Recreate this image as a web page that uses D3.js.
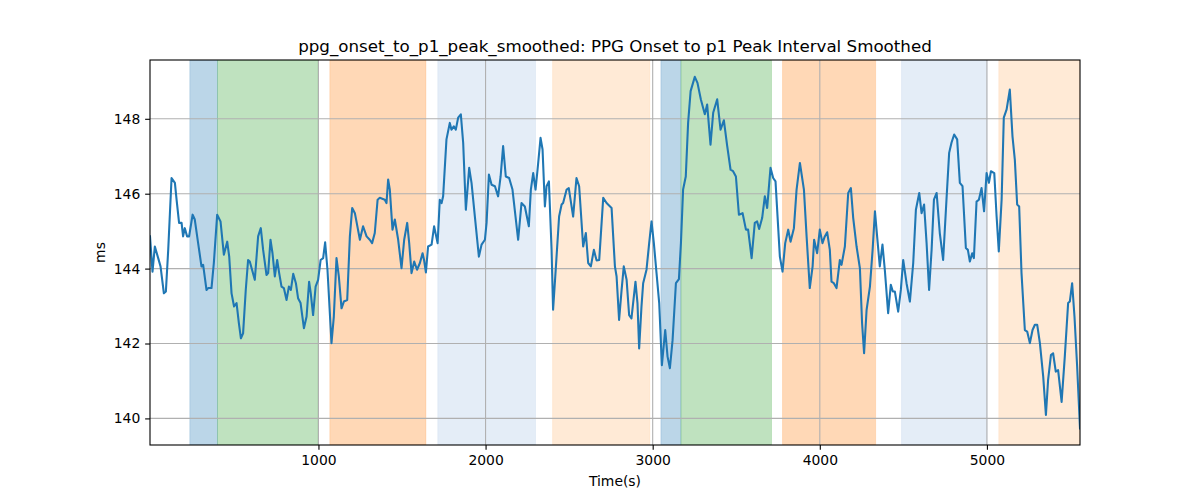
<!DOCTYPE html>
<html>
<head>
<meta charset="utf-8">
<script src="https://cdn.jsdelivr.net/npm/d3@7"></script>
<style>
  html, body { margin: 0; padding: 0; background: #fff; }
  svg { display: block; }
  text { font-family: "DejaVu Sans", sans-serif; fill: #000; }
</style>
</head>
<body>
<svg id="chart" width="1200" height="500"></svg>
<script>
const title = "ppg_onset_to_p1_peak_smoothed: PPG Onset to p1 Peak Interval Smoothed";
const xLabel = "Time(s)";
const yLabel = "ms";
const xTicks = [1000, 2000, 3000, 4000, 5000];
const yTicks = [140, 142, 144, 146, 148];
const xDomain = [-8, 5557];
const yDomain = [139.29, 149.57];

// shaded phases: start, end, kind
const spanStart = [230, 396, 1068, 1714, 2401, 3049, 3169, 3777, 4489, 5071];
const spanEnd   = [396, 998, 1643, 2299, 2983, 3169, 3711, 4334, 5001, 5557];
const spanKind  = ["blue", "green", "orange", "lightblue", "lightorange", "blue", "green", "orange", "lightblue", "lightorange"];

const time = [
-8,7,21,41,55,75,87,101,121,141,151,166,181,190,200,214,226,247,260,280,300,310,330,340,360,374,394,414,434,454,466,480,495,510,524,536,549,565,579,589,619,639,655,669,689,699,713,725,739,753,765,779,793,809,823,835,849,865,878,893,913,929,944,954,968,983,998,1013,1028,1040,1054,1078,1092,1108,1122,1138,1152,1172,1188,1202,1218,1248,1267,1288,1307,1321,1337,1354,1367,
1397,1407,1417,1427,1443,1457,1477,1497,1513,1531,1543,1557,1573,1590,1607,1623,1632,1643,1656,1677,1692,1713,1726,1737,1746,1766,1786,1796,1810,1822,1836,1852,1866,1882,1902,1916,1936,1960,1976,1996,2006,2020,2036,2056,2075,2090,2105,2121,2141,2161,2195,2215,2235,2259,2271,2285,2299,2311,2329,2341,2355,2365,2379,2395,2404,2421,2440,2455,2464,2485,2498,2524,2544,2560,2584,2600,2614,2630,2648,2664,2680,2704,2724,2754,
2774,2784,2799,2814,2827,2844,2859,2873,2897,2909,2919,2933,2943,2963,2979,2993,3007,3023,3039,3055,3075,3089,3103,3119,3139,3157,3169,3182,3198,3212,3227,3252,3268,3288,3312,3326,3346,3362,3386,3406,3426,3446,3466,3481,3498,3516,3538,3558,3571,3592,3611,3625,3637,3655,3671,3685,3705,3721,3735,3761,3777,3793,3811,3825,3845,3861,3881,3905,3921,3940,3957,3966,3984,4000,4016,4030,4044,4060,
4070,4084,4100,4120,4130,4150,4170,4186,4200,4220,4240,4253,4265,4280,4300,4316,4330,4343,4359,4375,4389,4409,4425,4437,4449,4469,4485,4499,4519,4539,4559,4575,4595,4609,4624,4639,4654,4669,4683,4699,4718,4738,4758,4774,4788,4804,4822,4838,4854,4874,4886,4898,4912,4922,4938,4952,4968,4983,4998,5012,5024,5044,5058,5071,5088,5101,5118,5137,5153,5167,5181,5193,5207,5227,5241,5257,5273,5287,5301,5317,5337,5353,5366,5383,5396,5412,5426,5447,5466,5486,5496,5510,5524,5540,5557
];
const msValues = [
144.86,143.92,144.59,144.28,144.06,143.34,143.39,144.50,146.42,146.29,145.84,145.22,145.22,144.86,145.08,144.86,144.86,145.44,145.31,144.68,144.06,144.10,143.43,143.48,143.48,144.15,145.44,145.26,144.37,144.72,144.32,143.34,142.99,143.08,142.54,142.14,142.27,143.43,144.23,144.19,143.70,144.86,145.08,144.50,143.83,143.88,144.77,144.41,143.79,144.23,143.88,143.52,143.48,143.16,143.52,143.43,143.86,143.61,143.21,143.08,142.41,142.72,143.65,143.34,142.76,143.52,143.70,144.23,144.28,144.70,143.97,142.01,142.72,144.28,143.79,142.94,143.12,143.16,144.86,145.62,145.48,144.77,145.13,144.86,144.77,144.68,144.95,145.84,145.89,
145.84,145.75,146.38,146.11,145.04,145.31,144.77,144.01,144.77,145.22,144.68,143.88,144.19,143.97,144.15,144.41,144.23,143.90,144.59,144.64,145.13,144.68,145.84,145.75,145.93,147.45,147.89,147.71,147.80,147.71,148.03,148.12,147.36,145.57,146.69,146.29,145.39,144.32,144.64,144.77,145.22,146.51,146.24,146.20,145.93,146.46,147.27,146.46,146.42,146.11,144.77,145.75,145.66,145.13,146.11,146.55,146.11,146.64,147.49,147.18,145.66,146.20,146.33,144.50,142.90,144.06,145.39,145.71,145.75,146.11,146.15,145.39,146.42,146.20,144.59,144.95,144.15,144.06,144.50,144.22,144.23,145.89,145.75,145.62,
144.06,143.79,142.63,143.43,144.06,143.70,142.76,142.67,143.65,143.08,141.87,142.99,143.61,143.97,144.68,145.26,144.68,143.88,143.08,141.42,142.36,141.65,141.34,142.09,143.61,143.72,144.68,146.11,146.46,147.89,148.74,149.12,148.96,148.52,148.12,148.38,147.31,148.16,148.52,147.71,147.96,147.27,146.64,146.60,146.46,145.44,145.48,145.04,145.04,144.28,145.22,145.26,145.06,145.35,145.93,145.62,146.69,146.42,146.33,144.32,143.92,144.68,145.04,144.72,145.08,146.11,146.82,146.11,144.86,143.48,144.06,144.77,144.41,145.04,144.68,144.86,144.97,144.50,
143.65,143.61,143.48,144.23,144.10,144.59,146.02,146.15,145.35,144.59,144.01,142.54,141.74,142.90,143.52,144.50,145.53,144.86,144.06,144.64,143.97,142.81,143.57,143.39,143.39,142.85,143.43,144.23,143.61,143.12,144.15,145.57,146.02,145.48,145.71,144.68,143.43,144.50,145.84,146.02,144.95,144.23,145.84,147.09,147.36,147.58,147.45,146.29,146.20,144.55,144.50,144.19,144.41,144.28,145.79,145.84,146.15,145.53,146.55,146.29,146.60,146.55,145.39,144.46,145.84,148.03,148.25,148.78,147.53,146.91,145.71,145.66,143.88,142.36,142.32,142.01,142.36,142.50,142.50,142.01,141.11,140.09,141.02,141.69,141.74,141.25,141.29,140.44,141.65,143.08,143.12,143.61,142.72,141.38,139.73
];

const spanColors = {
  blue:        { fill: "#1f77b4", op: 0.3 },
  green:       { fill: "#2ca02c", op: 0.3 },
  orange:      { fill: "#ff7f0e", op: 0.3 },
  lightblue:   { fill: "#aec7e8", op: 0.33 },
  lightorange: { fill: "#ffbb78", op: 0.3 }
};

const svg = d3.select("#chart");
const m = { left: 150, right: 1080, top: 60, bottom: 445 };

const x = d3.scaleLinear().domain(xDomain).range([m.left, m.right]);
const y = d3.scaleLinear().domain(yDomain).range([m.bottom, m.top]);

svg.append("defs").append("clipPath").attr("id", "clip")
  .append("rect").attr("x", m.left).attr("y", m.top)
  .attr("width", m.right - m.left).attr("height", m.bottom - m.top);

const spans = spanStart.map((s, i) => ({ s, e: spanEnd[i], k: spanKind[i] }));
svg.append("g").attr("clip-path", "url(#clip)")
  .selectAll("rect").data(spans).join("rect")
  .attr("x", d => x(d.s))
  .attr("width", d => x(d.e) - x(d.s))
  .attr("y", m.top).attr("height", m.bottom - m.top)
  .attr("fill", d => spanColors[d.k].fill)
  .attr("fill-opacity", d => spanColors[d.k].op)
  .attr("stroke", d => spanColors[d.k].fill)
  .attr("stroke-opacity", d => spanColors[d.k].op * 0.6)
  .attr("stroke-width", 1);

// grid
const grid = svg.append("g");
grid.selectAll("line.gx").data(xTicks).join("line")
  .attr("x1", d => x(d)).attr("x2", d => x(d))
  .attr("y1", m.top).attr("y2", m.bottom)
  .attr("stroke", "#b0b0b0").attr("stroke-width", 1.1);
grid.selectAll("line.gy").data(yTicks).join("line")
  .attr("y1", d => y(d)).attr("y2", d => y(d))
  .attr("x1", m.left).attr("x2", m.right)
  .attr("stroke", "#b0b0b0").attr("stroke-width", 1.1);

// line
const pts = time.map((t, i) => [t, msValues[i]]);
svg.append("path").datum(pts)
  .attr("clip-path", "url(#clip)")
  .attr("fill", "none")
  .attr("stroke", "#1f77b4")
  .attr("stroke-width", 2.08)
  .attr("stroke-linejoin", "round")
  .attr("stroke-linecap", "square")
  .attr("d", d3.line().x(d => x(d[0])).y(d => y(d[1])));

// frame
svg.append("rect").attr("x", m.left).attr("y", m.top)
  .attr("width", m.right - m.left).attr("height", m.bottom - m.top)
  .attr("fill", "none").attr("stroke", "#000").attr("stroke-width", 1.1);

// axes
const xAxis = svg.append("g").attr("transform", `translate(0,${m.bottom})`)
  .call(d3.axisBottom(x).tickValues(xTicks).tickSize(4.86).tickPadding(4.86).tickFormat(d3.format("d")));
const yAxis = svg.append("g").attr("transform", `translate(${m.left},0)`)
  .call(d3.axisLeft(y).tickValues(yTicks).tickSize(4.86).tickPadding(4.86).tickFormat(d3.format("d")));
[xAxis, yAxis].forEach(a => {
  a.select(".domain").remove();
  a.selectAll(".tick line").attr("stroke", "#000").attr("stroke-width", 1.1);
  a.selectAll(".tick text").attr("font-family", "DejaVu Sans").attr("font-size", "13.9px").attr("fill", "#000");
});

svg.append("text").attr("x", (m.left + m.right) / 2).attr("y", 52)
  .attr("text-anchor", "middle").attr("font-size", "16.7px").text(title);
svg.append("text").attr("x", (m.left + m.right) / 2).attr("y", 486)
  .attr("text-anchor", "middle").attr("font-size", "13.9px").text(xLabel);
svg.append("text").attr("transform", `translate(105,${(m.top + m.bottom) / 2}) rotate(-90)`)
  .attr("text-anchor", "middle").attr("font-size", "13.9px").text(yLabel);
</script>
</body>
</html>
